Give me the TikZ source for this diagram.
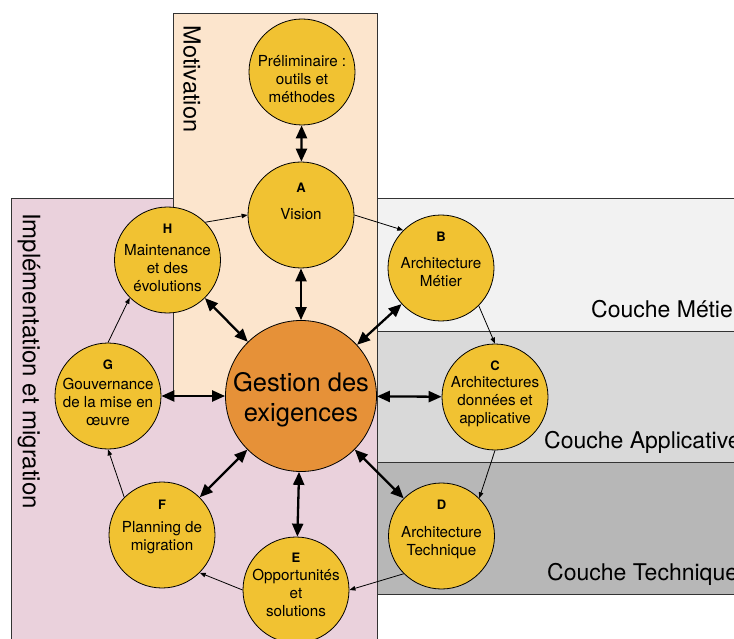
\documentclass[tikz,border=0pt]{standalone}
\usepackage{fontspec}
\setmainfont{TeX Gyre Heros}
\usetikzlibrary{arrows.meta}
\definecolor{peach}{HTML}{FCE5CD}
\definecolor{pinkbg}{HTML}{EAD1DC}
\definecolor{layone}{HTML}{F2F2F2}
\definecolor{laytwo}{HTML}{D9D9D9}
\definecolor{laythree}{HTML}{B7B7B7}
\definecolor{phase}{HTML}{F1C232}
\definecolor{central}{HTML}{E69138}
\definecolor{frame}{HTML}{333333}
\tikzset{
  phasenode/.style={circle, draw=black, line width=0.8pt, fill=phase, minimum size=106pt, inner sep=0pt},
  centralnode/.style={circle, draw=black, line width=0.8pt, fill=central, minimum size=151pt, inner sep=0pt},
  lettre/.style={font=\fontsize{13}{15}\selectfont\bfseries, inner sep=0pt},
  corps/.style={font=\fontsize{15.2}{18}\selectfont, align=center, inner sep=0pt},
  bigtext/.style={font=\fontsize{25.5}{30}\selectfont, align=center, inner sep=0pt},
  zonelabel/.style={font=\fontsize{23.5}{26}\selectfont, inner sep=0pt, rotate=-90},
  layerlabel/.style={font=\fontsize{23}{26}\selectfont, inner sep=0pt, anchor=base west},
  framedraw/.style={draw=frame, line width=1pt},
  biarrow/.style={line width=2.3pt, {Triangle[length=13pt,width=11pt]}-{Triangle[length=13pt,width=11pt]}},
  cyclearrow/.style={line width=0.8pt, -{Triangle[length=6pt,width=4.5pt]}}
}
\begin{document}
\begin{tikzpicture}[x=1pt,y=-1pt]
\useasboundingbox (0,0) rectangle (734,639);
\clip (0,0) rectangle (734,639);
% zones
\fill[pinkbg] (11,199) rectangle (377,650);
\draw[framedraw] (11,650) -- (11,199) -- (377,199) -- (377,650);
\fill[peach] (173,14) rectangle (377,396);
\draw[framedraw] (173,396) -- (173,14) -- (377,14) -- (377,396);
\fill[layone] (377,199) rectangle (745,331);
\fill[laytwo] (377,331) rectangle (745,462);
\fill[laythree] (377,462) rectangle (745,594);
\draw[framedraw] (745,199) -- (377,199) -- (377,594) -- (745,594);
\draw[framedraw] (377,331) -- (745,331);
\draw[framedraw] (377,462) -- (745,462);
\node[zonelabel] (motiv) at (192,79) {Motivation};
\node[zonelabel, font=\fontsize{24}{26}\selectfont] (impl) at (29,361) {Implémentation et migration};
\node[layerlabel] (metier) at (591,317) {Couche Métier};
\node[layerlabel] (applic) at (544,448) {Couche Applicative};
\node[layerlabel] (techn) at (547,580) {Couche Technique};
% circles
\node[phasenode] (Pre) at (302,72) {};
\node[phasenode] (A) at (301,215) {};
\node[phasenode] (B) at (441,268) {};
\node[phasenode] (C) at (495,397) {};
\node[phasenode] (D) at (441.5,536) {};
\node[phasenode] (E) at (296,590) {};
\node[phasenode] (F) at (162,535) {};
\node[phasenode] (G) at (108,396) {};
\node[phasenode] (H) at (167.5,260) {};
\node[centralnode] (Gest) at (301,396) {};
% texts
\node[corps] (Pre-t) at (302,79) {Préliminaire :\\outils et\\méthodes};
\node[lettre] (A-l) at (301,188) {A};
\node[corps] (A-t) at (301,214) {Vision};
\node[lettre] (B-l) at (441,237) {B};
\node[corps] (B-t) at (441,272) {Architecture\\Métier};
\node[lettre] (C-l) at (495,366) {C};
\node[corps] (C-t) at (495,402) {Architectures\\données et\\applicative};
\node[lettre] (D-l) at (441.5,505) {D};
\node[corps] (D-t) at (441.5,543) {Architecture\\Technique};
\node[lettre] (E-l) at (296,558) {E};
\node[corps] (E-t) at (296,593) {Opportunités\\et\\solutions};
\node[lettre] (F-l) at (162,505) {F};
\node[corps] (F-t) at (162,537.5) {Planning de\\migration};
\node[lettre] (G-l) at (108,365) {G};
\node[corps] (G-t) at (108,402) {Gouvernance\\de la mise en\\œuvre};
\node[lettre] (H-l) at (167.5,229) {H};
\node[corps] (H-t) at (167.5,268) {Maintenance\\et des\\évolutions};
\node[bigtext] (Gest-t) at (301,400) {Gestion des\\exigences};
% double arrows
\draw[biarrow] (Pre) -- (A);
\draw[biarrow] (Gest) -- (A);
\draw[biarrow] (Gest) -- (B);
\draw[biarrow] (Gest) -- (C);
\draw[biarrow] (Gest) -- (D);
\draw[biarrow] (Gest) -- (E);
\draw[biarrow] (Gest) -- (F);
\draw[biarrow] (Gest) -- (G);
\draw[biarrow] (Gest) -- (H);
% cycle
\draw[cyclearrow] (A.0) -- (B.135);
\draw[cyclearrow] (B.-45) -- (C.90);
\draw[cyclearrow] (C.-90) -- (D.45);
\draw[cyclearrow] (D.-135) -- (E.0);
\draw[cyclearrow] (E.180) -- (F.-45);
\draw[cyclearrow] (F.135) -- (G.-90);
\draw[cyclearrow] (G.90) -- (H.-135);
\draw[cyclearrow] (H.45) -- (A.180);
\end{tikzpicture}
\end{document}
